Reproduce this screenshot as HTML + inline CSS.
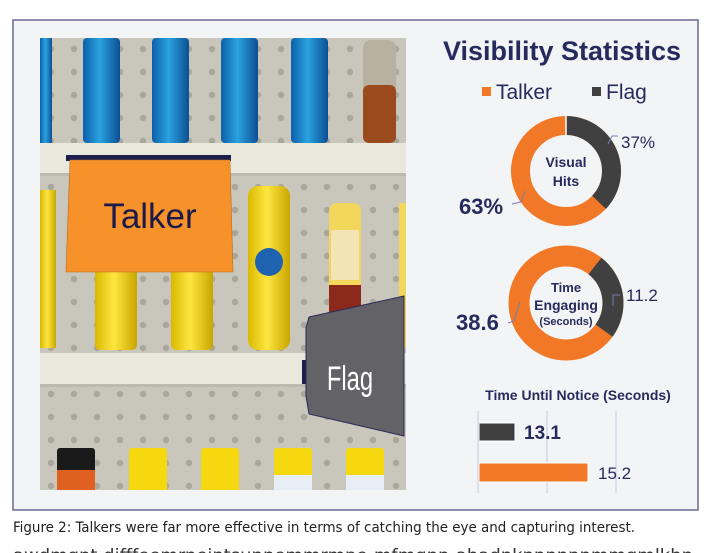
<!DOCTYPE html>
<html><head><meta charset="utf-8"><style>
html,body{margin:0;padding:0;background:#fff;}
body{width:704px;height:553px;overflow:hidden;position:relative;font-family:"Liberation Sans",sans-serif;}
</style></head><body>
<svg width="704" height="553" viewBox="0 0 704 553" xmlns="http://www.w3.org/2000/svg" style="position:absolute;left:0;top:0">
<rect x="13" y="20" width="685" height="490" fill="#f3f4f6" stroke="#6a6a92" stroke-width="1.5"/>
<defs>
<pattern id="dots" x="40" y="38" width="23" height="23" patternUnits="userSpaceOnUse">
<rect width="23" height="23" fill="#c9c6bb"/><circle cx="11" cy="11" r="3.2" fill="#a9a69c"/></pattern>
<linearGradient id="blue" x1="0" x2="1"><stop offset="0" stop-color="#0d5fa8"/><stop offset=".45" stop-color="#2aa3e0"/><stop offset="1" stop-color="#0b4f93"/></linearGradient>
<linearGradient id="yel" x1="0" x2="1"><stop offset="0" stop-color="#d9b800"/><stop offset=".45" stop-color="#ffe640"/><stop offset="1" stop-color="#c9a600"/></linearGradient>
<clipPath id="ph"><rect x="40" y="38" width="366" height="452"/></clipPath>
</defs>
<g clip-path="url(#ph)">
<rect x="40" y="38" width="366" height="452" fill="url(#dots)"/>
<rect x="40" y="38" width="12" height="105" fill="url(#blue)"/>
<rect x="83" y="38" width="37" height="105" rx="4" fill="url(#blue)"/>
<rect x="152" y="38" width="37" height="105" rx="4" fill="url(#blue)"/>
<rect x="221" y="38" width="37" height="105" rx="4" fill="url(#blue)"/>
<rect x="291" y="38" width="37" height="105" rx="4" fill="url(#blue)"/>
<rect x="363" y="40" width="33" height="103" rx="8" fill="#b8b0a0"/>
<rect x="363" y="85" width="33" height="58" rx="6" fill="#9a4a1c"/>
<rect x="40" y="143" width="366" height="32" fill="#e9e8dc"/>
<rect x="40" y="173" width="366" height="3" fill="#bdbbb0"/>
<rect x="40" y="190" width="16" height="158" fill="url(#yel)"/>
<rect x="95" y="250" width="42" height="100" rx="5" fill="url(#yel)"/>
<rect x="171" y="250" width="42" height="100" rx="5" fill="url(#yel)"/>
<rect x="248" y="186" width="42" height="164" rx="10" fill="url(#yel)"/>
<circle cx="269" cy="262" r="14" fill="#1f63b0"/>
<rect x="329" y="203" width="32" height="100" rx="8" fill="#f3d75a"/>
<rect x="331" y="230" width="28" height="50" fill="#f2e4b5"/>
<rect x="329" y="285" width="32" height="35" fill="#8b2a1a"/>
<rect x="399" y="203" width="10" height="145" fill="#f3d75a"/>
<rect x="40" y="353" width="366" height="33" fill="#e9e8dc"/>
<rect x="40" y="384" width="366" height="3" fill="#bdbbb0"/>
<rect x="57" y="448" width="38" height="45" rx="3" fill="#1a1a1a"/>
<rect x="57" y="470" width="38" height="20" fill="#e06020"/>
<rect x="129" y="448" width="38" height="45" rx="3" fill="#f5d80f"/>
<rect x="201" y="448" width="38" height="45" rx="3" fill="#f5d80f"/>
<rect x="274" y="448" width="38" height="45" rx="3" fill="#f5d80f"/>
<rect x="346" y="448" width="38" height="45" rx="3" fill="#f5d80f"/>
<rect x="274" y="475" width="38" height="15" fill="#e8eef6"/>
<rect x="346" y="475" width="38" height="15" fill="#e8eef6"/>
<rect x="66" y="155" width="165" height="6" fill="#1e1e4e"/>
<polygon points="70,160 230,160 233,272 66,272" fill="#f7922a" stroke="#b86a1a" stroke-width="0.6"/>
<text x="150" y="228" font-size="35" text-anchor="middle" fill="#1a1a4a">Talker</text>
<rect x="302" y="360" width="5" height="24" fill="#1e1e4e"/>
<polygon points="309,317 404,296 404,436 309,414 306,396 306,328" fill="#626267" stroke="#2a2a5a" stroke-width="1"/>
<text x="350" y="390" font-size="34" text-anchor="middle" fill="#fff" transform="translate(350,373) scale(0.7,1) translate(-350,-373)">Flag</text>
</g>
<text x="562" y="60" font-size="27" font-weight="bold" text-anchor="middle" fill="#262a5c">Visibility Statistics</text>
<rect x="482" y="87" width="9" height="9" fill="#f07826"/>
<text x="496" y="99" font-size="21" fill="#262a5c">Talker</text>
<rect x="592" y="87" width="9" height="9" fill="#404040"/>
<text x="606" y="99" font-size="21" fill="#262a5c">Flag</text>
<g transform="translate(566,171)">
<circle r="45.5" fill="none" stroke="#f07826" stroke-width="19"/>
<circle r="45.5" fill="none" stroke="#404040" stroke-width="19" stroke-dasharray="105.8 500" transform="rotate(-90)"/>
<line x1="0" y1="-55" x2="0" y2="-36" stroke="#fff" stroke-width="1.5"/>
</g>
<text x="566" y="167" font-size="14" font-weight="bold" text-anchor="middle" fill="#262a5c">Visual</text>
<text x="566" y="186" font-size="14" font-weight="bold" text-anchor="middle" fill="#262a5c">Hits</text>
<polyline points="608,144 612,136 618,136" fill="none" stroke="#7a7ab0" stroke-width="1"/>
<text x="621" y="148" font-size="17" fill="#262a5c">37%</text>
<polyline points="525,191 521,202 512,204" fill="none" stroke="#7a7ab0" stroke-width="1"/>
<text x="459" y="214" font-size="22" font-weight="bold" fill="#262a5c">63%</text>
<g transform="translate(566,303)">
<circle r="47" fill="none" stroke="#f07826" stroke-width="21"/>
<circle r="47" fill="none" stroke="#404040" stroke-width="21" stroke-dasharray="72 500" transform="rotate(-52)"/>
</g>
<text x="566" y="292" font-size="13" font-weight="bold" text-anchor="middle" fill="#262a5c">Time</text>
<text x="566" y="310" font-size="14" font-weight="bold" text-anchor="middle" fill="#262a5c">Engaging</text>
<text x="566" y="325" font-size="11" font-weight="bold" text-anchor="middle" fill="#262a5c">(Seconds)</text>
<polyline points="613,306 613,295 620,295" fill="none" stroke="#7a7ab0" stroke-width="1"/>
<text x="626" y="301" font-size="17" fill="#262a5c">11.2</text>
<polyline points="520,302 514,321 508,323" fill="none" stroke="#7a7ab0" stroke-width="1"/>
<text x="456" y="330" font-size="22" font-weight="bold" fill="#262a5c">38.6</text>
<text x="578" y="400" font-size="14" font-weight="bold" text-anchor="middle" fill="#262a5c">Time Until Notice (Seconds)</text>
<line x1="478" y1="411" x2="478" y2="493" stroke="#c8c8e4" stroke-width="1"/>
<line x1="547" y1="411" x2="547" y2="493" stroke="#c8c8e4" stroke-width="1"/>
<line x1="616" y1="411" x2="616" y2="493" stroke="#c8c8e4" stroke-width="1"/>
<rect x="479" y="423" width="36" height="18" fill="#404040" stroke="#fff" stroke-width="1"/>
<text x="524" y="439" font-size="19" font-weight="bold" fill="#262a5c">13.1</text>
<rect x="479" y="463" width="109" height="19" fill="#f07826" stroke="#fff" stroke-width="1"/>
<text x="598" y="479" font-size="17" fill="#262a5c">15.2</text>
<text x="13" y="532" font-size="14.5" fill="#222" font-family="DejaVu Sans Condensed, DejaVu Sans, sans-serif" textLength="622" lengthAdjust="spacingAndGlyphs">Figure 2: Talkers were far more effective in terms of catching the eye and capturing interest.</text>
<text x="13" y="561" font-size="17" fill="#333" font-family="DejaVu Sans Condensed, DejaVu Sans, sans-serif" textLength="680" lengthAdjust="spacingAndGlyphs">awdmgnt difffeemrneintsunnemmrmpe-mfmgnn-ahadnknnnnnnmmgmlkhn</text>
</svg>
</body></html>
